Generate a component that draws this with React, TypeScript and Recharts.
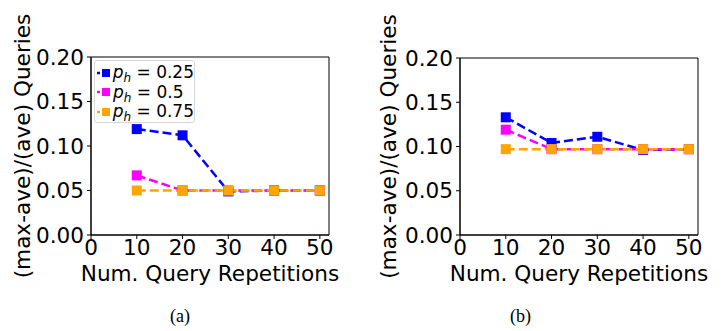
import { LineChart, Line, XAxis, YAxis, ReferenceArea } from "recharts"

const reps = [10, 20, 30, 40, 50]

// panel (a)
const aLow = [0.119, 0.112, 0.049, 0.05, 0.05]
const aMid = [0.067, 0.05, 0.05, 0.05, 0.05]
const aHigh = [0.05, 0.05, 0.05, 0.05, 0.05]

// panel (b)
const bLow = [0.133, 0.104, 0.111, 0.096, 0.097]
const bMid = [0.119, 0.097, 0.097, 0.097, 0.097]
const bHigh = [0.097, 0.097, 0.097, 0.097, 0.097]

const xTicks = [0, 10, 20, 30, 40, 50]
const yTicks = [0, 0.05, 0.1, 0.15, 0.2]

const seriesNames = ["0.25", "0.5", "0.75"]
const colors = ["#0000ff", "#ff00ff", "#ffa500"]

const FONT = "'DejaVu Sans', sans-serif"
const FS = 21.6

function buildRows(low: number[], mid: number[], high: number[]) {
  return reps.map((r, i) => ({ x: r, low: low[i], mid: mid[i], high: high[i] }))
}

const SquareDot = (props: any) => {
  const { cx, cy, stroke } = props
  if (cx == null || cy == null) return null
  return <rect x={cx - 5} y={cy - 5} width={10} height={10} fill={stroke} stroke="none" />
}

function LegendBox() {
  return (
    <div
      style={{
        position: "absolute",
        left: 94,
        top: 60,
        boxSizing: "border-box",
        width: 101,
        height: 63,
        border: "1px solid #d6d6d6",
        borderRadius: 3,
        background: "rgba(255,255,255,0.85)",
        padding: "2px 0 0 2px",
        fontFamily: FONT,
        fontSize: 17,
        lineHeight: "19.5px",
      }}
    >
      {seriesNames.map((n, i) => (
        <div key={n} style={{ display: "flex", alignItems: "center", whiteSpace: "nowrap", height: 19.5 }}>
          <svg width={14} height={12} style={{ marginRight: 2 }}>
            <line x1={0} y1={6} x2={14} y2={6} stroke={colors[i]} strokeWidth={2.5} strokeDasharray="3 2" />
            <rect x={5} y={2} width={8} height={8} fill={colors[i]} />
          </svg>
          <span style={{ lineHeight: "19.5px" }}>
            <i>p</i>
            <span style={{ fontSize: 12, fontStyle: "italic", position: "relative", top: 4, lineHeight: 0 }}>h</span>
            {" = " + n}
          </span>
        </div>
      ))}
    </div>
  )
}

function Panel({
  low,
  mid,
  high,
  width,
  yAxisWidth,
  right,
  top,
  labelX,
}: {
  low: number[]
  mid: number[]
  high: number[]
  width: number
  yAxisWidth: number
  right: number
  top: number
  labelX: number
}) {
  const rows = buildRows(low, mid, high)
  const keys = ["low", "mid", "high"]
  return (
    <LineChart width={width} height={331} data={rows} margin={{ top, right, left: 0, bottom: 36 }}>
      <XAxis
        dataKey="x"
        type="number"
        domain={[0, 52]}
        ticks={xTicks}
        allowDataOverflow
        height={60}
        tickSize={4}
        tickMargin={1}
        axisLine={{ stroke: "#000" }}
        tickLine={{ stroke: "#000" }}
        tick={{ fill: "#000", fontSize: FS, fontFamily: FONT }}
        label={{
          value: "Num. Query Repetitions",
          position: "insideBottom",
          offset: 14,
          fill: "#000",
          fontSize: FS,
          fontFamily: FONT,
        }}
      />
      <YAxis
        type="number"
        domain={[0, 0.2]}
        ticks={yTicks}
        width={yAxisWidth}
        tickSize={4}
        tickMargin={3}
        tickFormatter={(v: number) => v.toFixed(2)}
        axisLine={{ stroke: "#000" }}
        tickLine={{ stroke: "#000" }}
        tick={{ fill: "#000", fontSize: FS, fontFamily: FONT }}
        label={(p: any) => {
          const vb = p.viewBox
          const cy = vb.y + vb.height / 2
          return (
            <text
              x={labelX}
              y={cy}
              transform={`rotate(-90, ${labelX}, ${cy})`}
              textAnchor="middle"
              dominantBaseline="central"
              fill="#000"
              fontSize={FS}
              fontFamily={FONT}
            >
              (max-ave)/(ave) Queries
            </text>
          )
        }}
      />
      <ReferenceArea x1={0} x2={52} y1={0} y2={0.2} fill="none" stroke="#000" strokeWidth={1} />
      {keys.map((k, i) => (
        <Line
          key={k}
          dataKey={k}
          stroke={colors[i]}
          strokeWidth={2.5}
          strokeDasharray="9 4"
          dot={<SquareDot />}
          activeDot={false}
          isAnimationActive={false}
        />
      ))}
    </LineChart>
  )
}

export default function App() {
  return (
    <div style={{ position: "absolute", left: 0, top: 0, width: 721, height: 331, background: "#fff" }}>
      <div style={{ position: "absolute", left: 0, top: 0 }}>
        <Panel low={aLow} mid={aMid} high={aHigh} width={360} yAxisWidth={91} right={31} top={57} labelX={22} />
      </div>
      <div style={{ position: "absolute", left: 360, top: 0 }}>
        <Panel low={bLow} mid={bMid} high={bHigh} width={361} yAxisWidth={100} right={23} top={58} labelX={28} />
      </div>
      <LegendBox />
      <div style={{ position: "absolute", left: 170, top: 306, fontFamily: "'Liberation Serif', serif", fontSize: 18 }}>(a)</div>
      <div style={{ position: "absolute", left: 510, top: 306, fontFamily: "'Liberation Serif', serif", fontSize: 18 }}>(b)</div>
    </div>
  )
}
